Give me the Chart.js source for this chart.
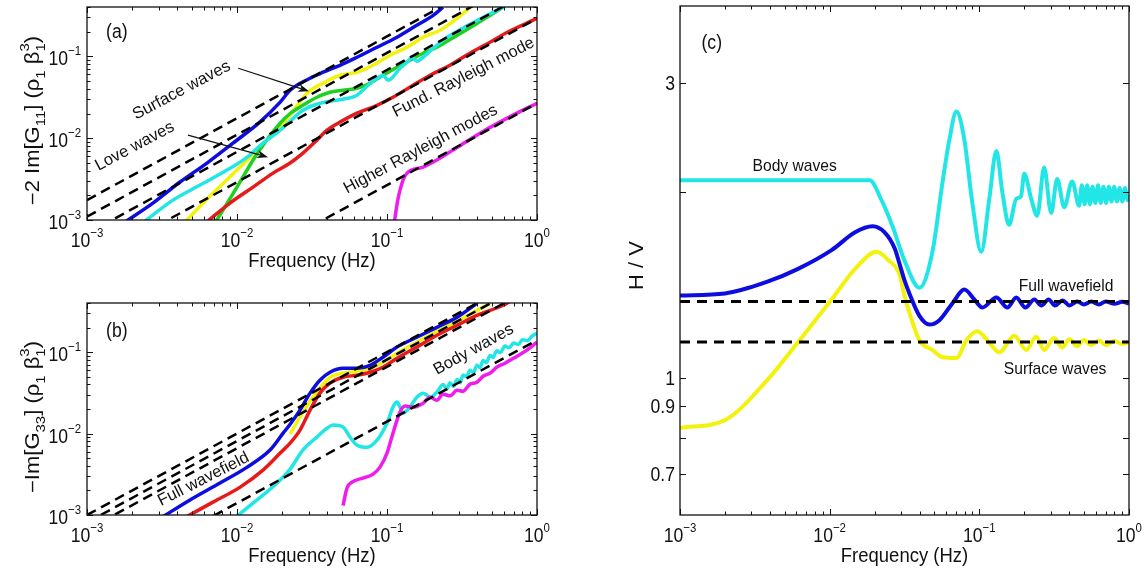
<!DOCTYPE html>
<html>
<head>
<meta charset="utf-8">
<script src="https://cdn.jsdelivr.net/npm/chart.js@4.4.3/dist/chart.umd.min.js"></script>
<style>
  html, body { margin: 0; padding: 0; background: #fff; }
  body { width: 1148px; height: 572px; position: relative; overflow: hidden; }
  canvas { position: absolute; }
</style>
</head>
<body>
<canvas id="chart-a" width="560" height="286" style="left:0;top:0"></canvas>
<canvas id="chart-b" width="560" height="286" style="left:0;top:286px"></canvas>
<canvas id="chart-c" width="588" height="572" style="left:560px;top:0"></canvas>
<script>
// ---- axis ticks ----
const freqTicks = [0.001, 0.01, 0.1, 1];
const freqTickExps = ["\u22123", "\u22122", "\u22121", "0"];
const gTicks = [0.001, 0.01, 0.1];
const gTickExps = ["\u22123", "\u22122", "\u22121"];
const hvTicks = [0.7, 0.8, 0.9, 1, 2, 3];
const hvTickLabels = ["0.7", "", "0.9", "1", "", "3"];

// ---- panel (a): -2 Im[G11] ----
const aBlueF = [0.0018, 0.00275, 0.00417, 0.00631, 0.0094, 0.0142, 0.0194, 0.0226, 0.0307, 0.0375, 0.0486, 0.0631, 0.0858, 0.1166, 0.158, 0.203, 0.236];
const aBlueV = [0.00095, 0.00161, 0.00291, 0.00496, 0.0087, 0.0157, 0.0275, 0.0385, 0.054, 0.0639, 0.0776, 0.0973, 0.129, 0.171, 0.239, 0.316, 0.396];
const aYellowF = [0.0045, 0.00692, 0.01, 0.0142, 0.0194, 0.0226, 0.0293, 0.0375, 0.0486, 0.0631, 0.0807, 0.1047, 0.136, 0.174, 0.226, 0.293, 0.357];
const aYellowV = [0.00095, 0.00213, 0.00407, 0.00776, 0.0136, 0.0191, 0.0354, 0.0469, 0.0586, 0.0638, 0.0777, 0.103, 0.129, 0.171, 0.208, 0.29, 0.396];
const aGreenF = [0.0072, 0.01, 0.0128, 0.0158, 0.0194, 0.0226, 0.0275, 0.0341, 0.0417, 0.0509, 0.0631, 0.0771, 0.094, 0.1166, 0.142, 0.174, 0.215, 0.293, 0.398, 0.509, 0.593];
const aGreenV = [0.00095, 0.00252, 0.0054, 0.0095, 0.0152, 0.02, 0.0252, 0.0316, 0.0364, 0.0385, 0.0407, 0.0469, 0.0586, 0.0735, 0.0894, 0.109, 0.129, 0.18, 0.252, 0.334, 0.396];
const aCyanF = [0.0024, 0.00374, 0.00567, 0.00858, 0.0117, 0.0149, 0.0194, 0.0226, 0.0275, 0.0341, 0.0417, 0.0509, 0.0631, 0.0736, 0.0858, 0.094, 0.1016, 0.109, 0.122, 0.136, 0.147, 0.158, 0.174, 0.203, 0.251, 0.341, 0.509, 0.612];
const aCyanV = [0.00095, 0.00175, 0.00267, 0.00407, 0.00586, 0.0087, 0.0125, 0.0161, 0.0219, 0.026, 0.0283, 0.0299, 0.0334, 0.043, 0.054, 0.0586, 0.051, 0.0554, 0.0714, 0.0845, 0.0973, 0.0869, 0.0973, 0.125, 0.17, 0.235, 0.344, 0.407];
const aRedF = [0.0063, 0.00898, 0.0128, 0.0174, 0.0226, 0.0275, 0.0341, 0.0398, 0.0486, 0.0631, 0.0858, 0.1096, 0.142, 0.194, 0.263, 0.357, 0.486, 0.612, 1];
const aRedV = [0.00095, 0.00161, 0.00252, 0.00374, 0.00496, 0.00656, 0.00946, 0.0125, 0.0157, 0.0202, 0.0252, 0.0316, 0.0419, 0.0586, 0.0777, 0.109, 0.148, 0.19, 0.29];
const aMagentaF = [0.112, 0.118, 0.128, 0.136, 0.174, 0.215, 0.275, 0.417, 0.692, 1];
const aMagentaV = [0.00095, 0.00175, 0.00308, 0.00374, 0.00443, 0.0054, 0.00714, 0.0115, 0.0191, 0.0267];
// high-frequency asymptotes, value at 1 mHz and at 1 Hz
const aDashF = [0.001, 1];
const aDashStart = [0.00175, 0.0011, 0.00068, 0.00029, 0.0000267];
const aDashEnd = [1.75, 1.1, 0.68, 0.29, 0.0267];

// ---- panel (b): -Im[G33] ----
const bBlueF = [0.0032, 0.00486, 0.0077, 0.0117, 0.0166, 0.0203, 0.0226, 0.0263, 0.0307, 0.0357, 0.0417, 0.0509, 0.0631, 0.0771, 0.094, 0.1166, 0.158, 0.215, 0.293, 0.398];
const bBlueV = [0.00095, 0.00153, 0.00247, 0.00387, 0.00626, 0.0101, 0.013, 0.0194, 0.0313, 0.0451, 0.0565, 0.0632, 0.0632, 0.0688, 0.0863, 0.115, 0.152, 0.201, 0.267, 0.396];
const bRedF = [0.0046, 0.00692, 0.0105, 0.0149, 0.0194, 0.0226, 0.0263, 0.0307, 0.0357, 0.0417, 0.0509, 0.0631, 0.0771, 0.094, 0.1166, 0.158, 0.215, 0.293, 0.398, 0.594, 0.66];
const bRedV = [0.00095, 0.00144, 0.0022, 0.00356, 0.00575, 0.00763, 0.011, 0.0194, 0.0313, 0.0415, 0.0491, 0.052, 0.0565, 0.0651, 0.0839, 0.115, 0.161, 0.213, 0.282, 0.375, 0.42];
const bYellowF = [0.0226, 0.0307, 0.0417, 0.0509, 0.0631, 0.0771, 0.094, 0.1166, 0.158, 0.215, 0.293, 0.398, 0.486];
const bYellowV = [0.0099, 0.025, 0.049, 0.055, 0.0582, 0.0633, 0.075, 0.0966, 0.132, 0.18, 0.238, 0.325, 0.396];
const bCyanF = [0.0099, 0.0136, 0.0185, 0.0226, 0.0275, 0.0341, 0.0398, 0.0437, 0.0509, 0.0567, 0.0631, 0.0736, 0.0858, 0.1, 0.1096, 0.1166, 0.122, 0.128, 0.142, 0.158, 0.174, 0.194, 0.215, 0.237, 0.25, 0.263, 0.278, 0.293, 0.307, 0.321, 0.34, 0.357, 0.377, 0.398, 0.417, 0.437, 0.46, 0.486, 0.51, 0.539, 0.57, 0.612, 0.65, 0.7, 0.75, 0.8, 0.86, 0.93, 1];
const bCyanV = [0.00095, 0.00153, 0.00247, 0.00366, 0.00626, 0.00904, 0.0116, 0.0127, 0.012, 0.00904, 0.0072, 0.0068, 0.0083, 0.0134, 0.0211, 0.0243, 0.0211, 0.0178, 0.0211, 0.0279, 0.0313, 0.0279, 0.0322, 0.04, 0.035, 0.042, 0.038, 0.046, 0.042, 0.052, 0.05, 0.06, 0.056, 0.069, 0.064, 0.079, 0.074, 0.091, 0.086, 0.104, 0.099, 0.119, 0.113, 0.129, 0.124, 0.142, 0.138, 0.158, 0.17];
const bMagentaF = [0.0509, 0.0541, 0.0585, 0.0692, 0.0807, 0.0898, 0.1, 0.1096, 0.122, 0.132, 0.149, 0.174, 0.194, 0.215, 0.236, 0.263, 0.293, 0.321, 0.357, 0.398, 0.437, 0.486, 0.539, 0.612, 0.713, 0.832, 1];
const bMagentaV = [0.0013, 0.00214, 0.00254, 0.00284, 0.00318, 0.00387, 0.00575, 0.0101, 0.0183, 0.0217, 0.0211, 0.0236, 0.0279, 0.0256, 0.0304, 0.029, 0.034, 0.033, 0.0403, 0.0427, 0.0505, 0.055, 0.065, 0.073, 0.086, 0.102, 0.132];
const bDashF = [0.001, 1];
const bDashStart = [0.001, 0.00081, 0.00066, 0.00014];
const bDashEnd = [1.0, 0.81, 0.66, 0.14];

// ---- panel (c): H/V ----
const cCyanF = [0.001, 0.005, 0.0185, 0.0222, 0.0263, 0.0316, 0.0398, 0.0486, 0.0567, 0.0631, 0.0703, 0.0794, 0.0898, 0.103, 0.1166, 0.13, 0.1424, 0.158, 0.1765, 0.19, 0.1995, 0.222, 0.2435, 0.271, 0.302, 0.331, 0.369, 0.417,
  0.4645, 0.484, 0.505, 0.526, 0.548, 0.571, 0.596, 0.621, 0.647, 0.675, 0.703, 0.733, 0.764, 0.796, 0.83, 0.865, 0.902, 0.94, 0.979, 1];
const cCyanV = [2.09, 2.09, 2.09, 1.94, 1.76, 1.55, 1.4, 1.6, 2.07, 2.43, 2.7, 2.43, 1.92, 1.6, 1.95, 2.33, 2.0, 1.77, 1.95, 1.97, 2.14, 1.95, 1.83, 2.19, 1.85, 2.1, 1.89, 2.08,
  1.9, 2.05, 1.91, 2.05, 1.91, 2.04, 1.92, 2.05, 1.92, 2.04, 1.92, 2.04, 1.93, 2.04, 1.93, 2.03, 1.93, 2.03, 1.94, 1.98];
const cBlueF = [0.001, 0.002, 0.0038, 0.0061, 0.0103, 0.0147, 0.0194, 0.0233, 0.0272, 0.0293, 0.0316, 0.0341, 0.0398, 0.0464, 0.0541, 0.066, 0.0794, 0.0926, 0.1047, 0.13, 0.154, 0.1765, 0.203, 0.233, 0.26, 0.29, 0.32, 0.36, 0.4, 0.45, 0.5, 0.56, 0.63, 0.7, 0.8, 0.9, 1];
const cBlueV = [1.36, 1.37, 1.43, 1.5, 1.61, 1.72, 1.76, 1.72, 1.62, 1.53, 1.44, 1.37, 1.26, 1.22, 1.24, 1.32, 1.39, 1.34, 1.3, 1.35, 1.3, 1.35, 1.3, 1.34, 1.31, 1.34, 1.31, 1.335, 1.31, 1.33, 1.315, 1.33, 1.315, 1.33, 1.318, 1.328, 1.32];
const cYellowF = [0.001, 0.002, 0.0038, 0.0061, 0.0103, 0.0151, 0.0206, 0.0244, 0.0293, 0.0316, 0.0341, 0.0398, 0.0486, 0.0567, 0.0703, 0.0819, 0.097, 0.1166, 0.136, 0.171, 0.206, 0.24, 0.271, 0.316, 0.357, 0.4, 0.45, 0.5, 0.56, 0.63, 0.7, 0.8, 0.9, 1];
const cYellowV = [0.83, 0.855, 0.99, 1.14, 1.34, 1.51, 1.6, 1.555, 1.47, 1.36, 1.275, 1.15, 1.11, 1.08, 1.077, 1.15, 1.19, 1.14, 1.1, 1.17, 1.11, 1.166, 1.11, 1.16, 1.12, 1.155, 1.125, 1.152, 1.13, 1.15, 1.13, 1.148, 1.135, 1.143];
const cDashF = [0.001, 1];
const cDashLevels = [1.33, 1.143];

const FONT = '"Liberation Sans", Arial, Helvetica, sans-serif';
const INK = "#111111";
const BLUE = "#0d0de0";
const CYAN = "#22e6e6";
const YELLOW = "#f2f20c";
const GREEN = "#1fd11f";
const RED = "#e61a1a";
const MAGENTA = "#ee1cee";

function toPoints(fs, vs) {
  return fs.map((f, i) => ({ x: f, y: vs[i] }));
}

function curve(fs, vs, color, order, width) {
  return {
    data: toPoints(fs, vs),
    borderColor: color,
    borderWidth: width,
    pointRadius: 0,
    cubicInterpolationMode: "monotone",
    fill: false,
    order,
  };
}

function dashed(fs, v0, v1, width, dash) {
  return {
    data: [{ x: fs[0], y: v0 }, { x: fs[1], y: v1 }],
    borderColor: "#000",
    borderWidth: width,
    borderDash: dash,
    borderCapStyle: "butt",
    pointRadius: 0,
    fill: false,
    order: 0,
  };
}

function logTickMarks(majors, max) {
  const marks = [];
  majors.forEach((d) => {
    for (let m = 1; m < 10; m++) {
      const v = d * m;
      if (v <= max * 1.0001) marks.push({ value: v, major: m === 1 });
    }
  });
  return marks;
}

function fontOf(size) {
  return `${size}px ${FONT}`;
}

// parts: [text, kind], kind is "" | "sub" | "sup" | "subsup" ("lo|hi")
function drawRich(ctx, parts, x, y, o) {
  const size = o.size;
  const small = Math.round(size * 0.66);
  ctx.save();
  ctx.translate(x, y);
  if (o.angle) ctx.rotate((o.angle * Math.PI) / 180);
  ctx.scale(o.sx || 1, o.sy || 1);
  ctx.textAlign = "left";
  ctx.textBaseline = "alphabetic";
  const widths = parts.map(([text, kind]) => {
    ctx.font = fontOf(kind ? small : size);
    if (kind === "subsup") {
      return Math.max(...text.split("|").map((t) => ctx.measureText(t).width));
    }
    return ctx.measureText(text).width;
  });
  const total = widths.reduce((s, w) => s + w, 0);
  let cx = o.align === "right" ? -total : o.align === "left" ? 0 : -total / 2;
  const base = size * 0.36;
  parts.forEach(([text, kind], i) => {
    ctx.font = fontOf(kind ? small : size);
    if (!kind) {
      ctx.fillText(text, cx, base);
    } else if (kind === "sup") {
      ctx.fillText(text, cx, base - size * 0.5);
    } else if (kind === "sub") {
      ctx.fillText(text, cx, base + size * 0.3);
    } else {
      const [lo, hi] = text.split("|");
      ctx.fillText(lo, cx, base + size * 0.3);
      ctx.fillText(hi, cx, base - size * 0.5);
    }
    cx += widths[i];
  });
  ctx.restore();
}

function drawArrow(ctx, x0, y0, x1, y1) {
  const ang = Math.atan2(y1 - y0, x1 - x0);
  const head = 11;
  const half = 4;
  const c = Math.cos(ang);
  const s = Math.sin(ang);
  ctx.lineWidth = 1.2;
  ctx.beginPath();
  ctx.moveTo(x0, y0);
  ctx.lineTo(x1 - head * 0.7 * c, y1 - head * 0.7 * s);
  ctx.stroke();
  ctx.beginPath();
  ctx.moveTo(x1, y1);
  ctx.lineTo(x1 - head * c + half * s, y1 - head * s - half * c);
  ctx.lineTo(x1 - head * 0.7 * c, y1 - head * 0.7 * s);
  ctx.lineTo(x1 - head * c - half * s, y1 - head * s + half * c);
  ctx.closePath();
  ctx.fill();
}

function makeFrame(spec) {
  return {
    id: "frame",
    afterDatasetsDraw(chart) {
      const { ctx, chartArea: area, scales } = chart;
      const xs = scales.x;
      const ys = scales.y;
      ctx.save();
      ctx.strokeStyle = INK;
      ctx.fillStyle = INK;
      ctx.lineWidth = 1;
      ctx.beginPath();
      spec.xTicks.forEach((t) => {
        const px = Math.round(xs.getPixelForValue(t.value)) + 0.5;
        const len = t.major ? 6 : 3.5;
        ctx.moveTo(px, area.bottom);
        ctx.lineTo(px, area.bottom - len);
        ctx.moveTo(px, area.top);
        ctx.lineTo(px, area.top + len);
      });
      spec.yTicks.forEach((t) => {
        const py = Math.round(ys.getPixelForValue(t.value)) + 0.5;
        const len = t.major ? 6 : 3.5;
        ctx.moveTo(area.left, py);
        ctx.lineTo(area.left + len, py);
        ctx.moveTo(area.right, py);
        ctx.lineTo(area.right - len, py);
      });
      ctx.stroke();
      ctx.lineWidth = 1.3;
      ctx.strokeRect(area.left, area.top, area.right - area.left, area.bottom - area.top);

      spec.xLabels.forEach((l) => {
        drawRich(ctx, l.parts, xs.getPixelForValue(l.value), area.bottom + 20, { size: 20, sx: 0.88 });
      });
      spec.yLabels.forEach((l) => {
        drawRich(ctx, l.parts, area.left - spec.yLabelGap, ys.getPixelForValue(l.value) + spec.yLabelDy, {
          size: 20,
          sx: 0.88,
          align: "right",
        });
      });
      drawRich(ctx, [["Frequency (Hz)", ""]], (area.left + area.right) / 2, area.bottom + 39, { size: 21, sx: 0.88 });
      drawRich(ctx, spec.yTitle, spec.yTitleX, (area.top + area.bottom) / 2 + spec.yTitleDy, {
        size: 22,
        angle: -90,
        sy: 0.88,
      });
      spec.notes.forEach((n) => {
        drawRich(ctx, [[n.text, ""]], xs.getPixelForValue(n.f), ys.getPixelForValue(n.v), {
          size: n.size,
          angle: n.angle || 0,
          sx: n.sx || 1,
        });
      });
      spec.arrows.forEach((a) => {
        drawArrow(
          ctx,
          xs.getPixelForValue(a.f0),
          ys.getPixelForValue(a.v0),
          xs.getPixelForValue(a.f1),
          ys.getPixelForValue(a.v1)
        );
      });
      ctx.restore();
    },
  };
}

function baseOptions(box, yMin, yMax) {
  return {
    responsive: false,
    animation: false,
    devicePixelRatio: 1,
    events: [],
    layout: { padding: { left: 0, right: box.right, top: box.top, bottom: 0 } },
    plugins: { legend: { display: false }, tooltip: { enabled: false } },
    scales: {
      x: {
        type: "logarithmic",
        min: 0.001,
        max: 1,
        bounds: "data",
        ticks: { display: false },
        grid: { display: false },
        border: { display: false },
        afterFit(scale) {
          scale.height = box.bottom;
        },
      },
      y: {
        type: "logarithmic",
        min: yMin,
        max: yMax,
        bounds: "data",
        ticks: { display: false },
        grid: { display: false },
        border: { display: false },
        afterFit(scale) {
          scale.width = box.left;
        },
      },
    },
  };
}

const freqLabels = freqTicks.map((v, i) => ({ value: v, parts: [["10", ""], [freqTickExps[i], "sup"]] }));
const gLabels = gTicks.map((v, i) => ({ value: v, parts: [["10", ""], [gTickExps[i], "sup"]] }));
const freqMarks = logTickMarks(freqTicks, 1);
const gMarks = logTickMarks(gTicks, 0.4);

// panel (a)
new Chart(document.getElementById("chart-a"), {
  type: "line",
  data: {
    datasets: [
      ...aDashStart.map((v0, i) => dashed(aDashF, v0, aDashEnd[i], 2.5, [10, 6])),
      curve(aBlueF, aBlueV, BLUE, 1, 3.5),
      curve(aMagentaF, aMagentaV, MAGENTA, 2, 3.5),
      curve(aRedF, aRedV, RED, 3, 3.5),
      curve(aCyanF, aCyanV, CYAN, 4, 3.5),
      curve(aGreenF, aGreenV, GREEN, 5, 3.5),
      curve(aYellowF, aYellowV, YELLOW, 6, 3.5),
    ],
  },
  options: baseOptions({ left: 87, right: 23, top: 7, bottom: 66 }, 0.001, 0.4),
  plugins: [
    makeFrame({
      xTicks: freqMarks,
      yTicks: gMarks,
      xLabels: freqLabels,
      yLabels: gLabels,
      yLabelGap: 6,
      yLabelDy: 2,
      yTitle: [["\u22122 Im[G", ""], ["11", "sub"], ["] (\u03c1", ""], ["1", "sub"], [" \u03b2", ""], ["1|3", "subsup"], [")", ""]],
      yTitleX: 32,
      yTitleDy: 7,
      notes: [
        { text: "(a)", f: 0.00158, v: 0.207, size: 20, sx: 0.88 },
        { text: "Surface waves", f: 0.00423, v: 0.0396, size: 16.5, angle: -28 },
        { text: "Love waves", f: 0.00206, v: 0.0082, size: 16.5, angle: -28 },
        { text: "Fund. Rayleigh mode", f: 0.321, v: 0.057, size: 16.5, angle: -27 },
        { text: "Higher Rayleigh modes", f: 0.166, v: 0.00755, size: 16.5, angle: -28 },
      ],
      arrows: [
        { f0: 0.0102, v0: 0.0714, f1: 0.0302, v1: 0.0374 },
        { f0: 0.00471, v0: 0.0109, f1: 0.0161, v1: 0.00586 },
      ],
    }),
  ],
});

// panel (b)
new Chart(document.getElementById("chart-b"), {
  type: "line",
  data: {
    datasets: [
      ...bDashStart.map((v0, i) => dashed(bDashF, v0, bDashEnd[i], 2.5, [10, 6])),
      curve(bBlueF, bBlueV, BLUE, 1, 3.5),
      curve(bRedF, bRedV, RED, 2, 3.5),
      curve(bMagentaF, bMagentaV, MAGENTA, 3, 3.5),
      curve(bCyanF, bCyanV, CYAN, 4, 3.5),
      curve(bYellowF, bYellowV, YELLOW, 5, 3.5),
    ],
  },
  options: baseOptions({ left: 87, right: 23, top: 17, bottom: 57 }, 0.001, 0.4),
  plugins: [
    makeFrame({
      xTicks: freqMarks,
      yTicks: gMarks,
      xLabels: freqLabels,
      yLabels: gLabels,
      yLabelGap: 6,
      yLabelDy: 2,
      yTitle: [["\u2212Im[G", ""], ["33", "sub"], ["] (\u03c1", ""], ["1", "sub"], [" \u03b2", ""], ["1|3", "subsup"], [")", ""]],
      yTitleX: 32,
      yTitleDy: 8,
      notes: [
        { text: "(b)", f: 0.00158, v: 0.185, size: 20, sx: 0.88 },
        { text: "Full wavefield", f: 0.00593, v: 0.00284, size: 16.5, angle: -27 },
        { text: "Body waves", f: 0.374, v: 0.111, size: 16.5, angle: -29 },
      ],
      arrows: [],
    }),
  ],
});

// panel (c)
new Chart(document.getElementById("chart-c"), {
  type: "line",
  data: {
    datasets: [
      ...cDashLevels.map((lvl) => dashed(cDashF, lvl, lvl, 3, [10, 7])),
      curve(cBlueF, cBlueV, BLUE, 1, 4),
      curve(cCyanF, cCyanV, CYAN, 2, 4),
      curve(cYellowF, cYellowV, YELLOW, 3, 4),
    ],
  },
  options: baseOptions({ left: 120, right: 19, top: 6, bottom: 57 }, 0.6, 4),
  plugins: [
    makeFrame({
      xTicks: freqMarks,
      yTicks: hvTicks.map((v) => ({ value: v, major: true })),
      xLabels: freqLabels,
      yLabels: hvTicks
        .map((v, i) => ({ value: v, parts: [[hvTickLabels[i], ""]] }))
        .filter((l) => l.parts[0][0] !== ""),
      yLabelGap: 5,
      yLabelDy: 0,
      yTitle: [["H / V", ""]],
      yTitleX: 76,
      yTitleDy: 5,
      notes: [
        { text: "(c)", f: 0.00163, v: 3.5, size: 20, sx: 0.88 },
        { text: "Body waves", f: 0.00584, v: 2.21, size: 17, sx: 0.92 },
        { text: "Full wavefield", f: 0.38, v: 1.415, size: 17, sx: 0.92 },
        { text: "Surface waves", f: 0.321, v: 1.038, size: 17, sx: 0.92 },
      ],
      arrows: [],
    }),
  ],
});
</script>
</body>
</html>
